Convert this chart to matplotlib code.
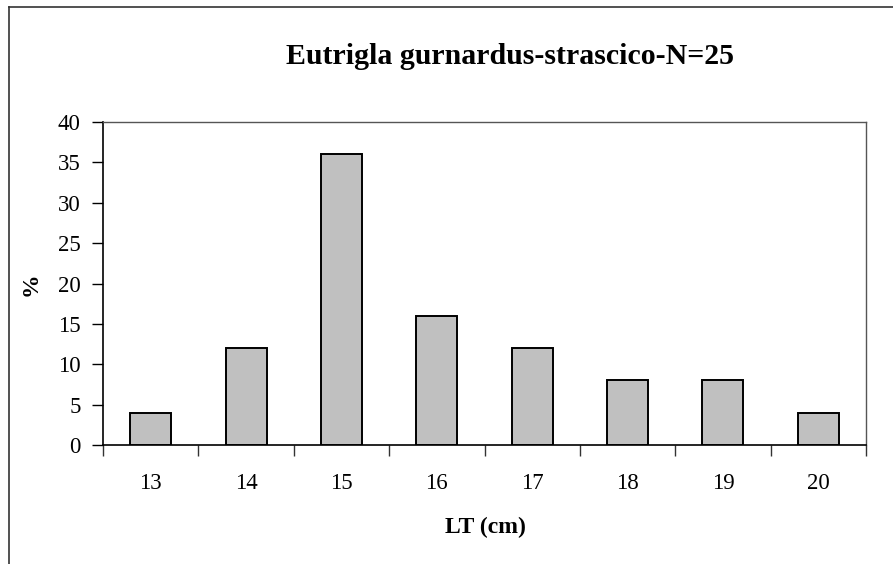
import matplotlib.pyplot as plt
from matplotlib.lines import Line2D
from matplotlib.ticker import FixedLocator, NullFormatter
import numpy as np

plt.rcParams['font.family'] = ['Liberation Serif', 'DejaVu Serif']

sizes = ["13", "14", "15", "16", "17", "18", "19", "20"]
percent = [4, 12, 36, 16, 12, 8, 8, 4]
title = "Eutrigla gurnardus-strascico-N=25"

W, H = 893, 564
fig = plt.figure(figsize=(W / 100, H / 100), dpi=100)
ax = fig.add_axes([103 / W, 1 - 445 / H, (866 - 103) / W, (445 - 122) / H])

x = np.arange(len(sizes))
ax.bar(x, percent, width=0.43, color="#c0c0c0", edgecolor="black", linewidth=1.4, zorder=3)

ax.set_xlim(-0.5, len(sizes) - 0.5)
ax.set_ylim(0, 40)
ax.set_yticks(np.arange(0, 41, 5))

# category boundaries get the tick marks, centres get the labels
ax.xaxis.set_major_locator(FixedLocator(np.arange(-0.5, len(sizes), 1.0)))
ax.xaxis.set_major_formatter(NullFormatter())
ax.xaxis.set_minor_locator(FixedLocator(x))
ax.set_xticklabels(sizes, minor=True)
ax.tick_params(axis="x", which="major", direction="out", length=8, width=1, color="#333333")
ax.tick_params(axis="x", which="minor", length=0, pad=20, labelsize=16.5)
ax.tick_params(axis="y", direction="out", length=8, width=1, labelsize=16.5, pad=8)

for s in ["left", "bottom"]:
    ax.spines[s].set_color("black")
    ax.spines[s].set_linewidth(1.2)
for s in ["top", "right"]:
    ax.spines[s].set_color("#555555")
    ax.spines[s].set_linewidth(1.0)

fig.text(485 / W, 1 - 527 / H, "LT (cm)", ha="center", va="center", fontsize=17, fontweight="bold")
fig.text(31 / W, 1 - 284 / H, "%", ha="center", va="center", fontsize=17, fontweight="bold", rotation=90)
fig.text(510 / W, 1 - 56 / H, title, ha="center", va="center", fontsize=21.5, fontweight="bold")

# outer chart frame (top and left edges visible)
fig.add_artist(Line2D([9 / W, 1], [1 - 7 / H, 1 - 7 / H], transform=fig.transFigure, color="#333333", lw=1.2))
fig.add_artist(Line2D([9 / W, 9 / W], [1 - 7 / H, 0], transform=fig.transFigure, color="#333333", lw=1.2))

fig.savefig("out.png", dpi=100)
